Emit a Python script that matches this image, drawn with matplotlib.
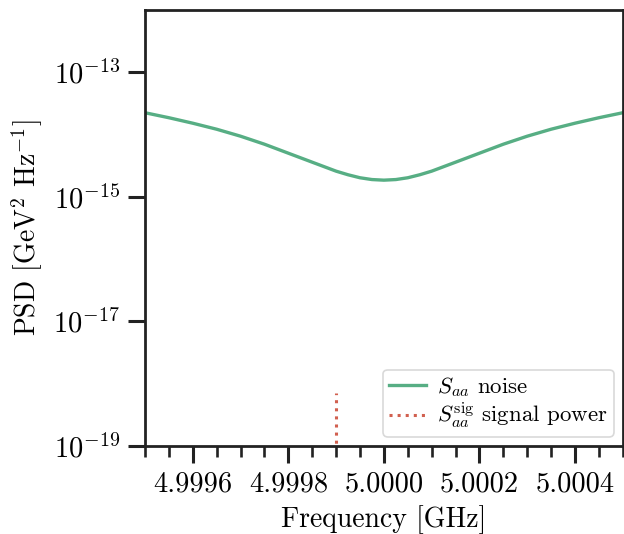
import numpy as np
import matplotlib
matplotlib.use("Agg")
import matplotlib.pyplot as plt
from matplotlib.ticker import FixedLocator, FormatStrFormatter, NullLocator

plt.rcParams.update({
    "font.family": "serif",
    "font.serif": ["cmr10"],
    "mathtext.fontset": "cm",
    "axes.unicode_minus": False,
    "axes.formatter.use_mathtext": True,
})

# Noise PSD (GHz, GeV^2/Hz)
noise_freq = [4.99950, 4.99955, 4.99960, 4.99965, 4.99970, 4.99975, 4.99980,
              4.99985, 4.99990, 4.999925, 4.99995, 4.999975, 5.00000,
              5.000025, 5.00005, 5.000075, 5.00010, 5.00015, 5.00020,
              5.00025, 5.00030, 5.00035, 5.00040, 5.00045, 5.00050]
noise_psd = [2.24e-14, 1.863e-14, 1.521e-14, 1.218e-14, 9.41e-15, 7.00e-15, 5.02e-15,
             3.60e-15, 2.584e-15, 2.262e-15, 2.025e-15, 1.895e-15, 1.853e-15,
             1.895e-15, 2.025e-15, 2.262e-15, 2.584e-15, 3.60e-15, 5.02e-15,
             7.00e-15, 9.41e-15, 1.218e-14, 1.521e-14, 1.863e-14, 2.24e-14]

# Signal power (narrow line)
signal_freq = [4.99990, 4.99990]
signal_psd = [1e-20, 7.1e-19]

xticks = [4.9996, 4.9998, 5.0000, 5.0002, 5.0004]
yticks = [1e-19, 1e-17, 1e-15, 1e-13]

fig = plt.figure(figsize=(6.24, 5.34), dpi=100)
ax = fig.add_axes([0.2324, 0.1648, 0.7656, 0.8165])

ax.plot(noise_freq, noise_psd, color="#57ae84", lw=2.4, label=r"$S_{aa}$ noise")
ax.plot(signal_freq, signal_psd, color="#d1604f", lw=2.2, ls=":",
        label=r"$S_{aa}^{\rm sig}$ signal power")

ax.set_yscale("log")
ax.set_xlim(4.9995, 5.0005)
ax.set_ylim(1e-19, 1e-12)

ax.yaxis.set_major_locator(FixedLocator(yticks))
ax.yaxis.set_minor_locator(NullLocator())
ax.xaxis.set_major_locator(FixedLocator(xticks))
ax.xaxis.set_major_formatter(FormatStrFormatter("%.4f"))
ax.xaxis.set_minor_locator(FixedLocator(np.arange(4.99950, 5.000501, 0.00005)))

for s in ax.spines.values():
    s.set_linewidth(2.0)
    s.set_color("#222222")

ax.tick_params(axis="both", which="major", direction="out", length=12, width=2.2,
               labelsize=20.5, color="#222222", pad=6)
ax.tick_params(axis="x", which="minor", direction="out", length=8, width=1.9,
               color="#222222")

ax.set_xlabel("Frequency [GHz]", fontsize=20, labelpad=6)
ax.set_ylabel(r"PSD [GeV$^2$ Hz$^{-1}$]", fontsize=20, labelpad=6)

leg = ax.legend(loc="lower right", fontsize=16.5, handlelength=1.6,
                handletextpad=0.5, labelspacing=0.08, borderpad=0.25,
                borderaxespad=0.4, framealpha=1.0, edgecolor="0.85")
leg.get_frame().set_linewidth(1.2)

fig.savefig("out.png", dpi=100)
